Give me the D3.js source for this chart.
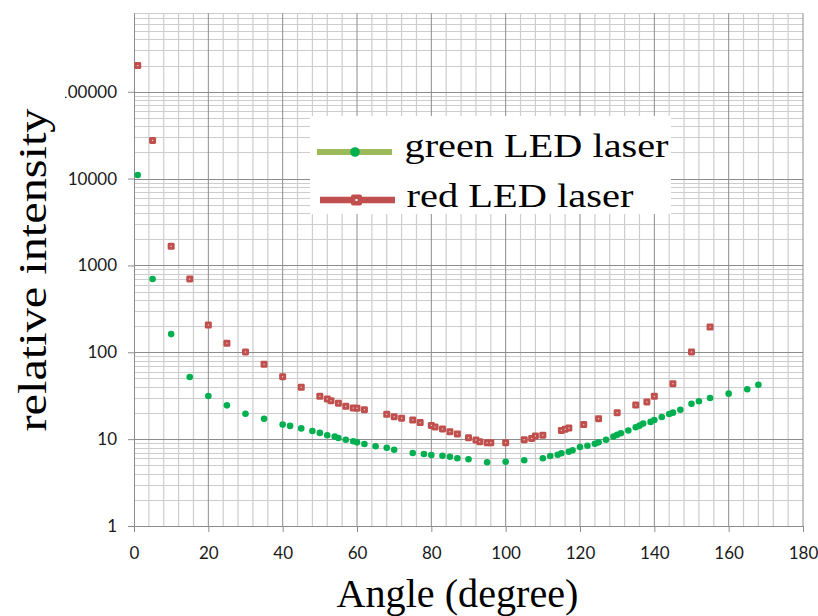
<!DOCTYPE html>
<html>
<head>
<meta charset="utf-8">
<script src="https://cdn.jsdelivr.net/npm/d3@7"></script>
<style>
  html, body { margin: 0; padding: 0; background: #ffffff; }
  svg { display: block; }
</style>
</head>
<body>
<svg id="chart" width="818" height="616"></svg>
<script>
// Scattering angle (degrees) and relative intensity for the two LED lasers
const greenAngle = [1, 5, 10, 15, 20, 25, 30, 35, 40, 42, 45, 48, 50, 52, 54, 55, 57, 59, 60, 62,
  65, 68, 70, 75, 78, 80, 83, 85, 87, 90, 95, 100, 105, 110, 112, 114, 115, 117, 118, 120,
  122, 124, 125, 127, 129, 130, 131, 133, 135, 136, 137, 139, 140, 142, 144, 145, 147, 150,
  152, 155, 160, 165, 168];
const greenIntensity = [11000, 698, 162, 51.9, 31.4, 24.5, 19.6, 17.2, 14.7, 14.2, 13.3, 12.4, 11.8,
  11.1, 10.7, 10.3, 9.85, 9.44, 9.19, 8.79, 8.27, 7.97, 7.56, 6.92, 6.74, 6.57, 6.45, 6.28,
  6.02, 5.86, 5.41, 5.50, 5.71, 6.02, 6.40, 6.62, 6.87, 7.17, 7.44, 8.12, 8.41, 8.86, 9.19,
  9.85, 10.7, 11.2, 11.7, 12.6, 13.7, 14.3, 15.1, 15.8, 16.6, 18.0, 19.5, 20.2, 21.8, 25.6,
  27.3, 29.8, 33.4, 37.5, 42.3];

const redAngle = [1, 5, 10, 15, 20, 25, 30, 35, 40, 45, 50, 52, 53, 55, 57, 59, 60, 62, 68, 70,
  72, 75, 77, 80, 81, 83, 85, 87, 90, 92, 93, 95, 96, 100, 105, 107, 108, 110, 115, 116,
  117, 121, 125, 130, 135, 138, 140, 145, 150, 155];
const redIntensity = [200000, 27500, 1660, 698, 206, 127, 101, 72.7, 52.3, 39.5, 31.1, 29.0, 27.7,
  25.9, 23.9, 22.8, 22.7, 21.8, 19.3, 18.1, 17.4, 16.6, 15.5, 14.4, 13.8, 13.1, 12.2, 11.5,
  10.4, 9.77, 9.35, 9.10, 9.10, 9.10, 9.85, 10.2, 10.9, 11.1, 12.6, 13.0, 13.4, 14.7, 17.2,
  20.2, 24.7, 26.8, 31.1, 43.5, 101, 195];

const seriesNames = ["green LED laser", "red LED laser"];
const xTicks = [0, 20, 40, 60, 80, 100, 120, 140, 160, 180];
const yTicks = [1, 10, 100, 1000, 10000, 100000];
const xTitle = "Angle (degree)";
const yTitle = "relative intensity";

const COLORS = {
  greenMarker: "#00b050",
  greenLine: "#9bbb59",
  red: "#c0504d",
  gridMajor: "#8c8c8c",
  gridMinor: "#cdcdcd",
  text: "#1a1a1a"
};

const plot = { left: 134, right: 803, top: 13.3, bottom: 526 };
const yMax = 800000;

const svg = d3.select("#chart");

const x = d3.scaleLinear().domain([0, 180]).range([plot.left, plot.right]);
const y = d3.scaleLog().domain([1, yMax]).range([plot.bottom, plot.top]);

// ---- grid ----
const grid = svg.append("g").attr("class", "grid");

// minor vertical lines every 4 degrees
const xMinor = d3.range(0, 181, 4).filter(d => d % 20 !== 0);
grid.selectAll("line.xminor").data(xMinor).join("line")
  .attr("class", "xminor")
  .attr("x1", d => x(d)).attr("x2", d => x(d))
  .attr("y1", plot.top).attr("y2", plot.bottom)
  .attr("stroke", COLORS.gridMinor).attr("stroke-width", 1.2);

// minor horizontal lines at 2..9 of each decade
const yMinor = [];
for (let p = 0; p <= 5; p++) {
  for (let k = 2; k <= 9; k++) {
    const v = k * Math.pow(10, p);
    if (v <= yMax) yMinor.push(v);
  }
}
grid.selectAll("line.yminor").data(yMinor).join("line")
  .attr("class", "yminor")
  .attr("x1", plot.left).attr("x2", plot.right)
  .attr("y1", d => Math.round(y(d)) + 0.5).attr("y2", d => Math.round(y(d)) + 0.5)
  .attr("stroke", COLORS.gridMinor).attr("stroke-width", 1);

// major vertical lines every 20 degrees
grid.selectAll("line.xmajor").data(xTicks.filter(d => d > 0)).join("line")
  .attr("class", "xmajor")
  .attr("x1", d => x(d)).attr("x2", d => x(d))
  .attr("y1", plot.top).attr("y2", plot.bottom)
  .attr("stroke", COLORS.gridMajor).attr("stroke-width", 1);

// major horizontal lines at decades
grid.selectAll("line.ymajor").data(yTicks.filter(d => d > 1)).join("line")
  .attr("class", "ymajor")
  .attr("x1", plot.left).attr("x2", plot.right)
  .attr("y1", d => Math.round(y(d)) + 0.5).attr("y2", d => Math.round(y(d)) + 0.5)
  .attr("stroke", COLORS.gridMajor).attr("stroke-width", 1);

// ---- axes ----
const tickFont = "Lato, 'Open Sans', sans-serif";

const xAxis = d3.axisBottom(x).tickValues(xTicks).tickSize(6).tickPadding(8)
  .tickFormat(d3.format("d"));
const gx = svg.append("g").attr("transform", `translate(0,${plot.bottom})`).call(xAxis);
gx.select(".domain").attr("stroke", COLORS.gridMajor).attr("d", `M${plot.left},0.5H${plot.right}`);
gx.selectAll(".tick line").attr("stroke", COLORS.gridMajor);
gx.selectAll(".tick text")
  .attr("font-family", tickFont).attr("font-size", 17)
  .attr("fill", COLORS.text).attr("dy", "1.1em");

// the y labels are clipped on the left, as in the source layout
svg.append("clipPath").attr("id", "ylabClip")
  .append("rect").attr("x", 65).attr("y", 0).attr("width", 818).attr("height", 616);

const yAxis = d3.axisLeft(y).tickValues(yTicks).tickSize(6).tickPadding(11)
  .tickFormat(d3.format("d"));
const gyOuter = svg.append("g").attr("clip-path", "url(#ylabClip)");
const gy = gyOuter.append("g").attr("transform", `translate(${plot.left},0)`).call(yAxis);
gy.select(".domain").attr("stroke", COLORS.gridMajor).attr("d", `M0.5,${plot.top}V${plot.bottom}`);
gy.selectAll(".tick line").attr("stroke", COLORS.gridMajor);
gy.selectAll(".tick text")
  .attr("font-family", tickFont).attr("font-size", 17)
  .attr("fill", COLORS.text);

// ---- data points ----
const greenData = greenAngle.map((a, i) => ({ a, v: greenIntensity[i] }));
const redData = redAngle.map((a, i) => ({ a, v: redIntensity[i] }));

const marks = svg.append("g");

marks.selectAll("rect.red").data(redData).join("rect")
  .attr("class", "red")
  .attr("x", d => x(d.a) - 3.5).attr("y", d => y(d.v) - 3.5)
  .attr("width", 7).attr("height", 7).attr("rx", 1.4)
  .attr("fill", COLORS.red);
marks.selectAll("rect.redc").data(redData).join("rect")
  .attr("class", "redc")
  .attr("x", d => x(d.a) - 0.6).attr("y", d => y(d.v) - 0.6)
  .attr("width", 1.2).attr("height", 1.2)
  .attr("fill", "#ffffff").attr("opacity", 0.7);

marks.selectAll("circle.green").data(greenData).join("circle")
  .attr("class", "green")
  .attr("cx", d => x(d.a)).attr("cy", d => y(d.v)).attr("r", 3.3)
  .attr("fill", COLORS.greenMarker);

// ---- legend ----
const legend = svg.append("g");
legend.append("rect").attr("x", 310).attr("y", 116).attr("width", 361).attr("height", 98)
  .attr("fill", "#ffffff");

// green entry
legend.append("line").attr("x1", 317).attr("x2", 392).attr("y1", 152).attr("y2", 152)
  .attr("stroke", COLORS.greenLine).attr("stroke-width", 6);
legend.append("circle").attr("cx", 355).attr("cy", 152).attr("r", 4.8)
  .attr("fill", COLORS.greenMarker);
legend.append("text").attr("x", 404.5).attr("y", 157)
  .attr("font-family", "'Liberation Serif', 'Times New Roman', serif").attr("font-size", 34)
  .attr("fill", "#000").attr("textLength", 264).attr("lengthAdjust", "spacingAndGlyphs")
  .text(seriesNames[0]);

// red entry
legend.append("line").attr("x1", 320).attr("x2", 395).attr("y1", 200).attr("y2", 200)
  .attr("stroke", COLORS.red).attr("stroke-width", 6.5);
legend.append("rect").attr("x", 351).attr("y", 194.5).attr("width", 11).attr("height", 11)
  .attr("rx", 2).attr("fill", COLORS.red);
legend.append("rect").attr("x", 355.5).attr("y", 199).attr("width", 2).attr("height", 2)
  .attr("fill", "#ffffff");
legend.append("text").attr("x", 406.5).attr("y", 207)
  .attr("font-family", "'Liberation Serif', 'Times New Roman', serif").attr("font-size", 34)
  .attr("fill", "#000").attr("textLength", 227).attr("lengthAdjust", "spacingAndGlyphs")
  .text(seriesNames[1]);

// ---- axis titles ----
svg.append("text")
  .attr("x", 457.5).attr("y", 606.5).attr("text-anchor", "middle")
  .attr("font-family", "'Liberation Serif', 'Times New Roman', serif").attr("font-size", 40)
  .attr("fill", "#000").attr("textLength", 242).attr("lengthAdjust", "spacingAndGlyphs")
  .text(xTitle);

svg.append("text")
  .attr("transform", "translate(46,270) rotate(-90)")
  .attr("text-anchor", "middle")
  .attr("font-family", "'Liberation Serif', 'Times New Roman', serif").attr("font-size", 40)
  .attr("fill", "#000").attr("textLength", 323).attr("lengthAdjust", "spacingAndGlyphs")
  .text(yTitle);
</script>
</body>
</html>
